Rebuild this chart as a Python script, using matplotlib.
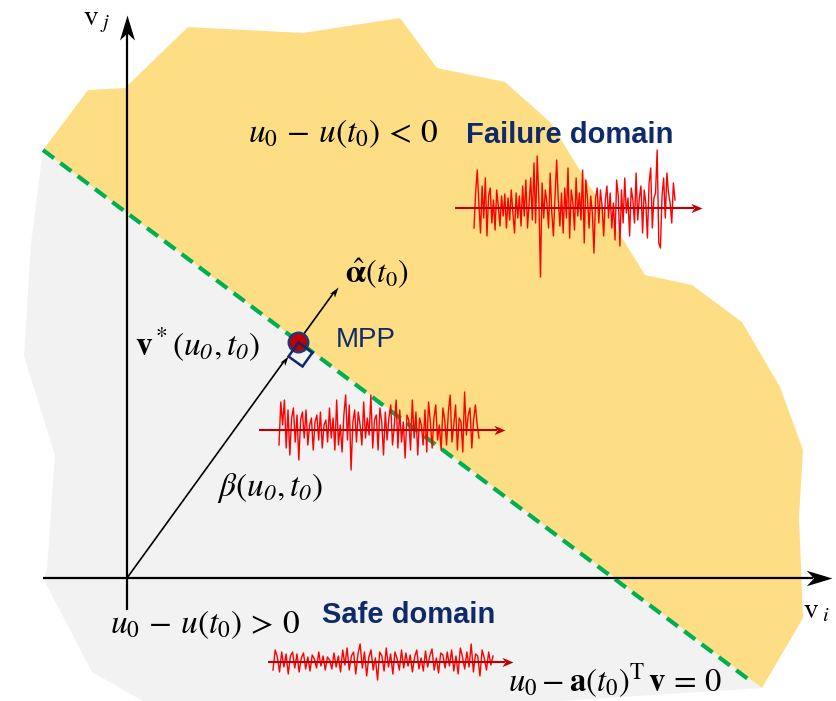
import numpy as np
import matplotlib.pyplot as plt
from matplotlib.path import Path
from matplotlib.markers import MarkerStyle
from matplotlib.transforms import Affine2D

plt.rcParams['mathtext.fontset'] = 'stix'
# 'custom' math family: sf slot gives italic digits for the subscripts
plt.rcParams['mathtext.rm'] = 'STIXGeneral'
plt.rcParams['mathtext.it'] = 'STIXGeneral:italic'
plt.rcParams['mathtext.bf'] = 'STIXGeneral:bold'
plt.rcParams['mathtext.sf'] = 'STIXGeneral:italic'
plt.rcParams['mathtext.fallback'] = 'stix'
plt.rcParams['font.family'] = ['Liberation Sans', 'DejaVu Sans']

# region outlines in pixel units (y grows downwards)
fail_x = [43, 88, 125, 188, 303, 400, 437, 505, 550, 645, 692, 742, 780, 803, 799, 803, 762]
fail_y = [150, 90, 88, 27, 33, 18, 68, 82, 122, 275, 285, 322, 387, 450, 517, 618, 688]
safe_x = [43, 762, 560, 143, 92, 44, 47, 55, 24, 31]
safe_y = [150, 688, 701, 701, 672, 580, 569, 455, 356, 244]

# limit-state line u0 - a^T v = 0
limit_x = [43, 752]
limit_y = [150, 682]

origin = (127, 578)
mpp = (298, 342)

# excitation samples drawn in the three regions (pixel offsets, up = positive)
sig_fail = [-20, 15, 38, 5, -25, 22, -10, 30, -28, 12, 20, -15, 8, -22, 18, 2, -18, 12, -8, 14,
            -20, 10, -12, 18, -5, -25, 15, -10, 12, -18, 22, -8, 28, -20, 5, 30, -12, 45, -15, 52,
            10, -69, 25, -10, 18, 5, -20, 35, -5, -28, 12, 48, 8, -18, 15, -25, 20, -10, 40, -30,
            18, 5, -22, 30, -8, 15, -12, 38, -35, 28, 10, -20, 12, -5, -45, 10, 20, -15, 18, 2,
            -28, 8, 22, -10, 15, -20, 5, -32, 28, 12, -38, 18, -15, 30, -5, 10, -28, 20, 8, -15,
            35, -12, 10, 22, -25, 18, 5, -30, 25, 40, -20, 10, 15, 58, -35, -40, 12, 30, -10, 35,
            15, 5, -15, 25, 8]
sig_mid = [-15, 28, 5, 30, -18, 20, -25, 12, 22, -12, 15, -30, 10, 18, -8, 20, -15, 5, 12, -20,
           8, 15, -10, 18, -18, 5, 10, -12, 22, -8, 12, -20, 30, -15, 5, -22, 15, 35, -10, 25,
           -40, 8, 20, -12, 18, 5, -15, 28, -8, 12, -5, 35, -18, 10, 15, -20, 22, 8, -25, 18,
           -10, 12, 25, -15, 5, 30, -18, 20, -12, 8, -28, 15, 10, -20, 30, -8, 18, -25, 12, 5,
           -15, 20, -22, 28, 8, -18, 12, 25, -10, 5, -20, 22, 10, -15, 18, 35, -12, 5, 25, -20,
           12, 8, -22, 38, -5, 15, 22, -18, 10, 25, 5, -8]
sig_safe = [-8, 12, 5, -10, 10, -5, 8, -12, 6, 10, -6, 8, -10, 4, 9, -7, 5, -9, 7, 3,
            -6, 10, -4, 6, -8, 5, 2, -7, 9, -5, 6, -10, 12, -3, 14, -8, 6, 10, -12, 8,
            18, -6, 10, -14, 5, 12, -8, 4, -18, 10, 6, -9, 14, -5, 8, -12, 10, 3, -8, 12,
            -6, 9, -4, 7, -10, 5, 12, -7, 4, -9, 11, -5, 6, 13, -8, 4, -11, 9, 7, -6,
            10, -4, 12, -9, 6, -12, 14, 5, -7, 10, -5, 18, -10, 8, 6, -14, 12, 4, -8, 10, -3, 6]

NAVY = '#0E2A6A'
DARKRED = '#C00000'

fig = plt.figure(figsize=(8.37, 7.01), dpi=100)
ax = fig.add_axes([0, 0, 1, 1])
ax.set_xlim(0, 837)
ax.set_ylim(701, 0)
ax.axis('off')


def head(angle, ratio=0.3, notch=0.72):
    verts = [(0, 0), (-1, ratio), (-notch, 0), (-1, -ratio), (0, 0)]
    codes = [Path.MOVETO, Path.LINETO, Path.LINETO, Path.LINETO, Path.CLOSEPOLY]
    return MarkerStyle(Path(verts, codes), transform=Affine2D().rotate_deg(angle))


def arrow(x0, y0, x1, y1, color='k', lw=1.5, size=20, ratio=0.3, notch=0.72, z=5):
    dx, dy = x1 - x0, y1 - y0
    d = np.hypot(dx, dy)
    hl = 0.5 * size * 100 / 72 * notch  # stop the shaft inside the notch
    xe, ye = x1 - dx / d * hl, y1 - dy / d * hl
    ax.plot([x0, xe], [y0, ye], color=color, lw=lw, zorder=z, solid_capstyle='butt')
    ang = np.degrees(np.arctan2(-dy, dx))
    ax.plot([x1], [y1], marker=head(ang, ratio, notch), ms=size,
            mfc=color, mec=color, mew=0, zorder=z)


# domains
ax.fill(safe_x, safe_y, color='#F2F2F2', lw=0, zorder=1)
ax.fill(fail_x, fail_y, color='#FEDE84', lw=0, zorder=1)
ax.plot(limit_x, limit_y, color='#00B050', lw=3, ls=(0, (3.3, 1.9)), zorder=3)

# coordinate axes
arrow(43, 578, 832, 578, lw=1.6, size=37, z=4)
arrow(127, 610, 127, 15, lw=1.6, size=36, z=4)

# excitation records
for sig, y0, sx0, sx1, ax0, ax1 in [(sig_fail, 208, 474, 675, 455, 702),
                                    (sig_mid, 430, 279, 479, 259, 505),
                                    (sig_safe, 662, 273, 493, 268, 513)]:
    xs = np.linspace(sx0, sx1, len(sig))
    ax.plot(xs, y0 - np.array(sig), color='#FF0000', lw=1.0, zorder=5)
    arrow(ax0, y0, ax1, y0, color=DARKRED, lw=1.5, size=16, ratio=0.42, notch=0.7, z=6)

# design point, reliability index and unit normal
n = np.array(mpp, float) - np.array(origin, float)
n /= np.hypot(*n)
t = np.array([limit_x[1] - limit_x[0], limit_y[1] - limit_y[0]], float)
t /= np.hypot(*t)
side = 17
bx, by = np.array(mpp) - n * side
arrow(origin[0], origin[1], bx, by, lw=1.2, size=14, z=6)
tip = np.array(mpp) + n * 68
arrow(mpp[0], mpp[1], tip[0], tip[1], lw=1.2, size=15, z=6)

ax.plot(*mpp, marker='o', ms=14, mfc=DARKRED, mec='#1F3A7A', mew=1.8, zorder=7)
sq_c = np.array(mpp) + (t - n) * side / 2
sq_ang = np.degrees(np.arctan2(-t[1], t[0]))
ax.plot(*sq_c, marker=MarkerStyle('s', fillstyle='none',
                                  transform=Affine2D().rotate_deg(sq_ang)),
        ms=side * 0.72, mec=NAVY, mew=1.8, zorder=8)

# labels
ax.text(83, 25, r'$\mathrm{v}_{\;j}$', fontsize=21, va='baseline')
ax.text(803, 618, r'$\mathrm{v}_{\;i}$', fontsize=21, va='baseline')
ax.text(248, 142, r'$u_0\, -\, u(t_0)\, <\, 0$', fontsize=24, va='baseline')
ax.text(110, 633, r'$u_0\, -\, u(t_0)\, >\, 0$', fontsize=24, va='baseline')
ax.text(345, 283, r'$\hat{\mathbf{\alpha}}(t_0)$', fontsize=23, va='baseline')
ax.text(135, 356, r'$\mathbf{v}^*(u_{\mathsf{0}},t_{\mathsf{0}})$', fontsize=24,
        va='baseline', math_fontfamily='custom')
ax.text(217, 496, r'$\beta(u_{\mathsf{0}},t_{\mathsf{0}})$', fontsize=24,
        va='baseline', math_fontfamily='custom')
ax.text(508, 692, r'$u_0 - \mathbf{a}(t_0)^{\mathrm{T}}\,\mathbf{v}\, =\, 0$', fontsize=23.5,
        va='baseline')
ax.text(466, 143, 'Failure domain', fontsize=21, fontweight='bold', color=NAVY, va='baseline')
ax.text(322, 623, 'Safe domain', fontsize=21, fontweight='bold', color=NAVY, va='baseline')
ax.text(336, 347, 'MPP', fontsize=20, color=NAVY, va='baseline')

fig.savefig('out.png', dpi=100)
